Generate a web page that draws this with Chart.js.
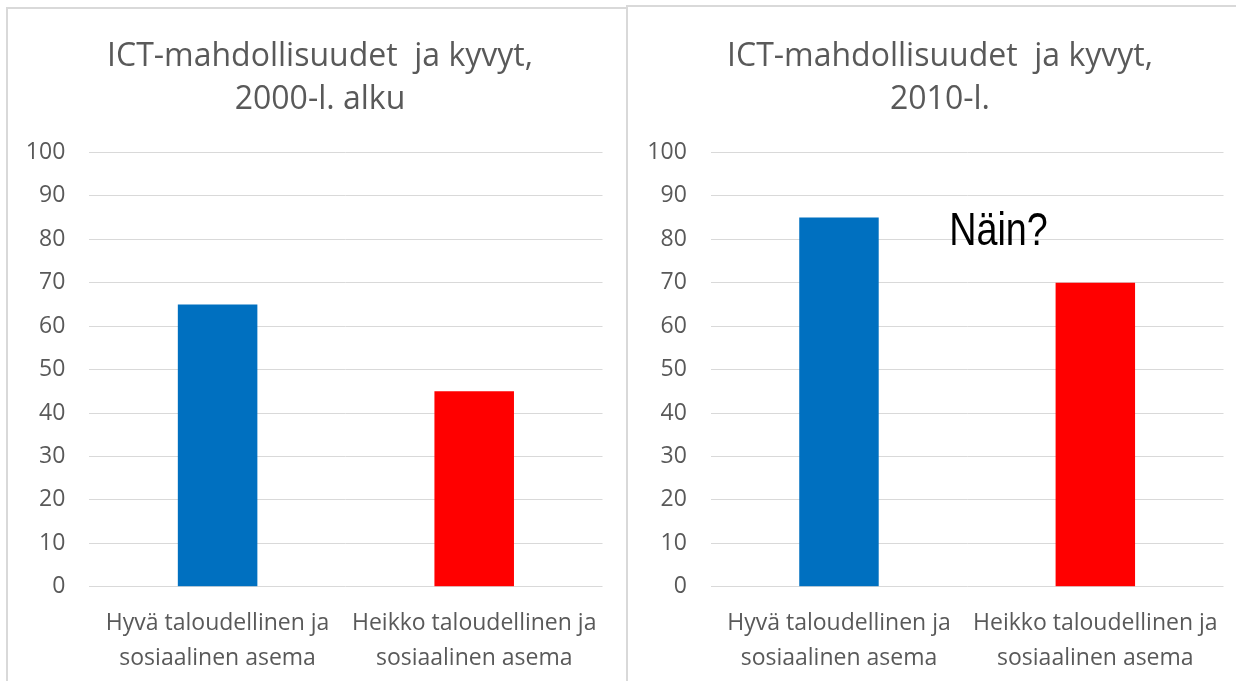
<!DOCTYPE html>
<html>
<head>
<meta charset="utf-8">
<script src="https://cdn.jsdelivr.net/npm/chart.js@4.4.1/dist/chart.umd.min.js"></script>
<style>
  html, body { margin: 0; padding: 0; background: #ffffff; overflow: hidden; }
  body { width: 1236px; height: 681px; position: relative; }
  .frame { position: absolute; box-sizing: border-box; border: 2px solid #d9d9d9; }
  #frameL { left: 6px; top: 7px; width: 622px; height: 720px; }
  #frameR { left: 626px; top: 5px; width: 720px; height: 720px; }
  .wrap { position: absolute; top: 0; height: 681px; }
  #wrapL { left: 0; width: 640px; }
  #wrapR { left: 628px; width: 624px; }
</style>
</head>
<body>
<div class="frame" id="frameL"></div>
<div class="frame" id="frameR"></div>
<div class="wrap" id="wrapL"><canvas id="chartL"></canvas></div>
<div class="wrap" id="wrapR"><canvas id="chartR"></canvas></div>
<script>
// ---- data ----
const categories = [
  ['Hyvä taloudellinen ja', 'sosiaalinen asema'],
  ['Heikko taloudellinen ja', 'sosiaalinen asema']
];
const titleEarly = ['ICT-mahdollisuudet  ja kyvyt,', '2000-l. alku'];
const titleLate = ['ICT-mahdollisuudet  ja kyvyt,', '2010-l.'];
const valuesEarly = [65, 45];
const valuesLate = [85, 70];
const barColors = ['#0070C0', '#FF0000'];
const yMin = 0;
const yMax = 100;
const yStep = 10;
const noteText = 'Näin?';
const noteX = 0.43;   // category-index position of the note's left edge
const noteY = 78.7;   // value position of the note's baseline

// ---- style ----
const GREY_TEXT = '#595959';
const GRID = '#d9d9d9';
const FONT = "'Open Sans', 'Liberation Sans', sans-serif";

const notePlugin = {
  id: 'note',
  afterDatasetsDraw(chart, args, opts) {
    if (!opts || !opts.text) return;
    const ctx = chart.ctx;
    const x = chart.scales.x.getPixelForValue(opts.x);
    const y = chart.scales.y.getPixelForValue(opts.y);
    ctx.save();
    ctx.fillStyle = '#000000';
    ctx.font = "46px 'Liberation Sans', Arial, sans-serif";
    ctx.textAlign = 'left';
    ctx.textBaseline = 'alphabetic';
    ctx.translate(x, y);
    ctx.scale(0.82, 1);
    ctx.fillText(opts.text, 0, 0);
    ctx.restore();
  }
};

function makeChart(id, title, values, yWidth, rightWidth, note) {
  return new Chart(document.getElementById(id), {
    type: 'bar',
    data: {
      labels: categories,
      datasets: [{
        data: values,
        backgroundColor: barColors,
        borderWidth: 0,
        barPercentage: 0.31,
        categoryPercentage: 1.0
      }]
    },
    plugins: [notePlugin],
    options: {
      responsive: true,
      maintainAspectRatio: false,
      animation: false,
      devicePixelRatio: 1,
      layout: { padding: 0 },
      plugins: {
        legend: { display: false },
        tooltip: { enabled: false },
        title: {
          display: true,
          text: title,
          color: GREY_TEXT,
          font: { family: FONT, size: 32, weight: 'normal', lineHeight: 1.34 },
          padding: { top: 35.5, bottom: 31.2 }
        },
        note: note || {}
      },
      scales: {
        x: {
          grid: { display: false },
          border: { display: false },
          ticks: {
            color: GREY_TEXT,
            font: { family: FONT, size: 23, lineHeight: 1.52 },
            padding: 11,
            maxRotation: 0,
            autoSkip: false
          },
          afterFit(s) { s.height = 94.3; }
        },
        y: {
          min: yMin,
          max: yMax,
          grid: { color: GRID, lineWidth: 1, drawTicks: false },
          border: { display: false },
          ticks: {
            stepSize: yStep,
            color: GREY_TEXT,
            font: { family: FONT, size: 23 },
            padding: 24
          },
          afterFit(s) { s.width = yWidth; }
        },
        yRight: {
          position: 'right',
          display: true,
          grid: { display: false, drawTicks: false },
          border: { display: false },
          ticks: { display: false },
          afterFit(s) { s.width = rightWidth; }
        }
      }
    }
  });
}

makeChart('chartL', titleEarly, valuesEarly, 89.3, 37.5, null);
makeChart('chartR', titleLate, valuesLate, 82.8, 28.5, { text: noteText, x: noteX, y: noteY });
</script>
</body>
</html>
